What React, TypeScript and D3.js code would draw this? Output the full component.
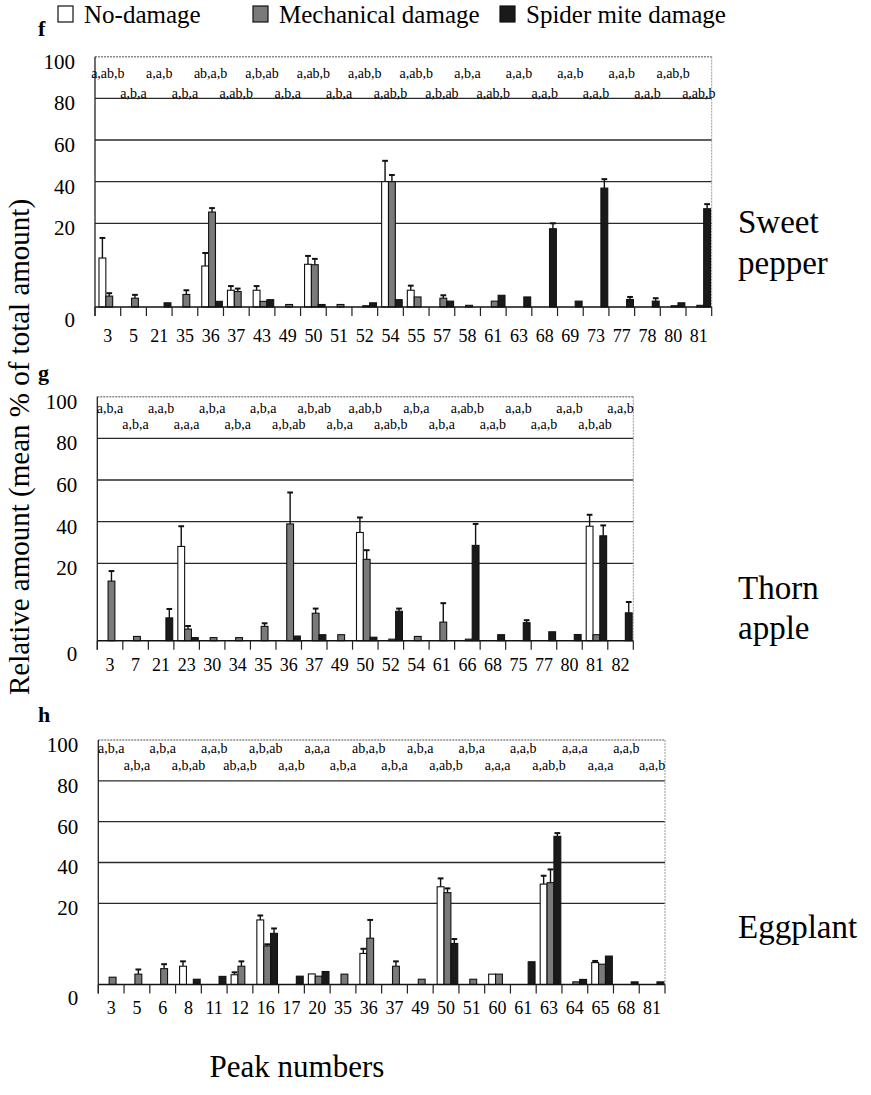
import React from "react";
import * as d3 from "d3";

// Treatments (bar series) and their fills
const SERIES = ["No-damage", "Mechanical damage", "Spider mite damage"];
const FILLS = ["#ffffff", "#7a7a7a", "#1a1a1a"];

// f — Sweet pepper
const pepperPeaks = [3, 5, 21, 35, 36, 37, 43, 49, 50, 51, 52, 54, 55, 57, 58, 61, 63, 68, 69, 73, 77, 78, 80, 81];
const pepperNoDamage = [11.7, 0, 0, 0, 9.8, 4.0, 4.0, 0, 10.2, 0, 0, 40, 4.0, 0, 0, 0, 0, 0, 0, 0, 0, 0, 0, 0];
const pepperNoDamageErr = [4.8, 0, 0, 0, 3.1, 1.0, 1.0, 0, 2.0, 0, 0, 10, 1.1, 0, 0, 0, 0, 0, 0, 0, 0, 0, 0, 0];
const pepperMech = [2.6, 2.1, 0, 3.0, 25.4, 3.7, 1.35, 0.6, 10.1, 0.6, 0.3, 40, 2.4, 2.1, 0.4, 1.4, 0, 0, 0, 0, 0, 0, 0.3, 0.4];
const pepperMechErr = [0.7, 0.8, 0, 1.0, 1.9, 0.7, 0, 0, 1.4, 0, 0, 3.2, 0, 0.7, 0, 0, 0, 0, 0, 0, 0, 0, 0, 0];
const pepperMite = [0, 0, 1.0, 0, 1.35, 0, 1.75, 0, 0.6, 0, 1.0, 1.75, 0, 1.4, 0, 2.8, 2.4, 18.7, 1.4, 36.9, 1.8, 1.4, 1.0, 27.0];
const pepperMiteErr = [0, 0, 0, 0, 0, 0, 0, 0, 0, 0, 0, 0, 0, 0, 0, 0, 0, 1.3, 0, 4.3, 0.6, 0.7, 0, 2.2];
const pepperLetters = [
  "a,ab,b", "a,b,a", "a,a,b", "a,b,a", "ab,a,b", "a,ab,b", "a,b,ab", "a,b,a",
  "a,ab,b", "a,b,a", "a,ab,b", "a,ab,b", "a,ab,b", "a,b,ab", "a,b,a", "a,ab,b",
  "a,a,b", "a,a,b", "a,a,b", "a,a,b", "a,a,b", "a,a,b", "a,ab,b", "a,ab,b",
];

// g — Thorn apple
const thornPeaks = [3, 7, 21, 23, 30, 34, 35, 36, 37, 49, 50, 52, 54, 61, 66, 68, 75, 77, 80, 81, 82];
const thornNoDamage = [0, 0, 0, 28.1, 0, 0, 0, 0, 0, 0, 34.8, 0, 0, 0, 0, 0, 0, 0, 0, 37.8, 0];
const thornNoDamageErr = [0, 0, 0, 9.7, 0, 0, 0, 0, 0, 0, 7.2, 0, 0, 0, 0, 0, 0, 0, 0, 5.5, 0];
const thornMech = [15.4, 1.1, 0, 3.0, 0.8, 0.8, 3.7, 38.9, 7.1, 1.55, 21.9, 0.4, 1.1, 4.8, 0.4, 0, 0, 0, 0, 1.55, 0];
const thornMechErr = [2.6, 0, 0, 0.8, 0, 0, 0.8, 15.1, 1.2, 0, 4.4, 0, 0, 4.9, 0, 0, 0, 0, 0, 0, 0];
const thornMite = [0, 0, 5.9, 0.8, 0, 0, 0, 1.2, 1.55, 0, 0.9, 7.6, 0, 0, 28.6, 1.55, 4.65, 2.3, 1.6, 33.2, 7.2];
const thornMiteErr = [0, 0, 2.3, 0, 0, 0, 0, 0, 0, 0, 0, 0.7, 0, 0, 10.3, 0, 0.65, 0, 0, 5.0, 2.8];
const thornLetters = [
  "a,b,a", "a,b,a", "a,a,b", "a,a,a", "a,b,a", "a,b,a", "a,b,a", "a,b,ab",
  "a,b,ab", "a,b,a", "a,ab,b", "a,ab,b", "a,b,a", "a,b,a", "a,ab,b", "a,a,b",
  "a,a,b", "a,a,b", "a,a,b", "a,b,ab", "a,a,b",
];

// h — Eggplant
const eggPeaks = [3, 5, 6, 8, 11, 12, 16, 17, 20, 35, 36, 37, 49, 50, 51, 60, 61, 63, 64, 65, 68, 81];
const eggNoDamage = [0, 0, 0, 4.5, 0, 2.4, 15.9, 0, 2.6, 0, 7.65, 0, 0, 28.1, 0, 2.55, 0, 29.4, 0, 5.4, 0, 0];
const eggNoDamageErr = [0, 0, 0, 1.2, 0, 0.6, 1.1, 0, 0, 0, 1.15, 0, 0, 4.1, 0, 0, 0, 4.1, 0, 0.4, 0, 0];
const eggMech = [1.8, 2.55, 3.9, 0, 0, 4.5, 9.5, 0, 2.05, 2.55, 11.4, 4.5, 1.3, 25.2, 1.3, 2.55, 0, 30.1, 0.65, 5.0, 0, 0];
const eggMechErr = [0, 1.15, 1.1, 0, 0, 1.2, 0.4, 0, 0, 0, 4.5, 1.2, 0, 2.1, 0, 0, 0, 6.5, 0, 0, 0, 0];
const eggMite = [0, 0, 0, 1.3, 2.0, 0, 12.6, 2.05, 3.2, 0, 0, 0, 0, 10.1, 0, 0, 5.6, 52.8, 1.25, 7.0, 0.65, 0.65];
const eggMiteErr = [0, 0, 0, 0, 0, 0, 1.2, 0, 0, 0, 0, 0, 0, 1.1, 0, 0, 0, 1.6, 0, 0, 0, 0];
const eggLetters = [
  "a,b,a", "a,b,a", "a,b,a", "a,b,ab", "a,a,b", "ab,a,b", "a,b,ab", "a,a,b",
  "a,a,a", "a,b,a", "ab,a,b", "a,b,a", "a,b,a", "a,ab,b", "a,b,a", "a,a,a",
  "a,a,b", "a,ab,b", "a,a,a", "a,a,a", "a,a,b", "a,a,b",
];

const Y_TICKS = [0, 20, 40, 60, 80, 100];
const GRID = [20, 40, 60, 80];

const FONT = "Liberation Serif, Times New Roman, Times, DejaVu Serif, serif";

type Layout = {
  left: number; right: number; top: number; y20: number; base: number;
  row1: number; row2: number; catY: number; tag: string; tagY: number;
  species: string[]; speciesY: number[];
};

const LAYOUTS: Layout[] = [
  { left: 95, right: 711.7, top: 56.7, y20: 223.3, base: 307, row1: 73.5, row2: 93, catY: 336,
    tag: "f", tagY: 28, species: ["Sweet", "pepper"], speciesY: [222, 263] },
  { left: 97.3, right: 633.3, top: 396.7, y20: 563.3, base: 640.7, row1: 408.5, row2: 424.5, catY: 665,
    tag: "g", tagY: 372, species: ["Thorn", "apple"], speciesY: [588, 628] },
  { left: 98.3, right: 665, top: 740, y20: 903.3, base: 984.5, row1: 748.5, row2: 765, catY: 1008,
    tag: "h", tagY: 714, species: ["Eggplant"], speciesY: [927] },
];

type PanelProps = {
  layout: Layout; peaks: number[]; series: number[][]; errors: number[][]; letters: string[];
};

function Panel({ layout, peaks, series, errors, letters }: PanelProps) {
  const L = layout;
  const x = d3.scaleBand<string>().domain(peaks.map(String)).range([L.left, L.right]).padding(0);
  const bw = x.bandwidth();
  const inner = d3.scaleBand<number>().domain([0, 1, 2]).range([bw * 0.155, bw * 0.955]).padding(0);
  const y = d3.scaleLinear().domain([0, 20, 100]).range([L.base, L.y20, L.top]);
  const w = inner.bandwidth();

  return (
    <g>
      {/* panel tag */}
      <text x={38} y={L.tagY} fontWeight="bold" fontSize={22} dominantBaseline="central">{L.tag}</text>

      {/* gridlines */}
      {GRID.map((v) => (
        <line key={v} x1={L.left} x2={L.right} y1={y(v)} y2={y(v)} stroke="#2a2a2a" strokeWidth={1.3} />
      ))}
      {/* frame: top and right edges */}
      <line x1={L.left} x2={L.right} y1={y(100)} y2={y(100)} stroke="#8a8a8a" strokeWidth={1.6} strokeDasharray="2,1" />
      <line x1={L.right} x2={L.right} y1={y(100)} y2={L.base} stroke="#9a9a9a" strokeWidth={1} strokeDasharray="2,1" />

      {/* y tick labels */}
      {Y_TICKS.map((v) => (
        <text key={v} x={L.left - 20} y={y(v) + (v === 0 ? 13 : 5)} textAnchor="end" dominantBaseline="central"
          fontSize={21}>{v}</text>
      ))}

      {/* bars */}
      {peaks.map((p, i) => (
        <g key={p} transform={`translate(${x(String(p))},0)`}>
          {series.map((vals, s) => {
            const v = vals[i];
            if (!v) return null;
            const bx = inner(s) as number;
            const e = errors[s][i];
            const cx = bx + w / 2;
            return (
              <g key={s}>
                {e > 0 && (
                  <g stroke="#111" strokeWidth={1.4}>
                    <line x1={cx} x2={cx} y1={y(v)} y2={y(v + e)} />
                    <line x1={cx - w * 0.42} x2={cx + w * 0.42} y1={y(v + e)} y2={y(v + e)} strokeWidth={2} />
                  </g>
                )}
                <rect x={bx} y={y(v)} width={w} height={L.base - y(v)} fill={FILLS[s]} stroke="#111" strokeWidth={1.1} />
              </g>
            );
          })}
        </g>
      ))}

      {/* axes */}
      <line x1={L.left} x2={L.right} y1={L.base} y2={L.base} stroke="#111" strokeWidth={1.5} />
      <line x1={L.left} x2={L.left} y1={y(100)} y2={L.base + 9} stroke="#222" strokeWidth={1.3} />
      {d3.range(peaks.length + 1).map((k) => (
        <line key={k} x1={L.left + k * bw} x2={L.left + k * bw} y1={L.base} y2={L.base + 9} stroke="#222" strokeWidth={1.2} />
      ))}

      {/* significance letters */}
      {peaks.map((p, i) => (
        <text key={p} x={(x(String(p)) as number) + bw / 2} y={i % 2 === 0 ? L.row1 : L.row2}
          textAnchor="middle" dominantBaseline="central" fontSize={14}>{letters[i]}</text>
      ))}

      {/* peak numbers */}
      {peaks.map((p) => (
        <text key={p} x={(x(String(p)) as number) + bw / 2} y={L.catY}
          textAnchor="middle" dominantBaseline="central" fontSize={18}>{p}</text>
      ))}

      {/* species */}
      {L.species.map((s, k) => (
        <text key={s} x={738} y={L.speciesY[k]} dominantBaseline="central" fontSize={33}>{s}</text>
      ))}
    </g>
  );
}

const LEGEND_X = [58, 253, 500];

export default function App() {
  const panels = [
    { peaks: pepperPeaks, series: [pepperNoDamage, pepperMech, pepperMite], errors: [pepperNoDamageErr, pepperMechErr, pepperMiteErr], letters: pepperLetters },
    { peaks: thornPeaks, series: [thornNoDamage, thornMech, thornMite], errors: [thornNoDamageErr, thornMechErr, thornMiteErr], letters: thornLetters },
    { peaks: eggPeaks, series: [eggNoDamage, eggMech, eggMite], errors: [eggNoDamageErr, eggMechErr, eggMiteErr], letters: eggLetters },
  ];
  return (
    <svg width={871} height={1095} viewBox="0 0 871 1095" fontFamily={FONT}
      style={{ position: "absolute", left: 0, top: 0, background: "#fff", fontFamily: FONT }}>
      <rect width={871} height={1095} fill="#fff" />
      {/* legend */}
      {SERIES.map((name, s) => (
        <g key={name}>
          <rect x={LEGEND_X[s]} y={6} width={15} height={16} fill={FILLS[s]} stroke="#111" strokeWidth={1.2} />
          <text x={LEGEND_X[s] + 26} y={14} dominantBaseline="central" fontSize={25}>{name}</text>
        </g>
      ))}

      {panels.map((p, k) => (
        <Panel key={k} layout={LAYOUTS[k]} peaks={p.peaks} series={p.series} errors={p.errors} letters={p.letters} />
      ))}

      {/* shared axis titles */}
      <text transform="translate(19,447) rotate(-90)" textAnchor="middle" dominantBaseline="central" fontSize={29}>
        Relative amount (mean % of total amount)
      </text>
      <text x={297} y={1066} textAnchor="middle" dominantBaseline="central" fontSize={31}>Peak numbers</text>
    </svg>
  );
}
